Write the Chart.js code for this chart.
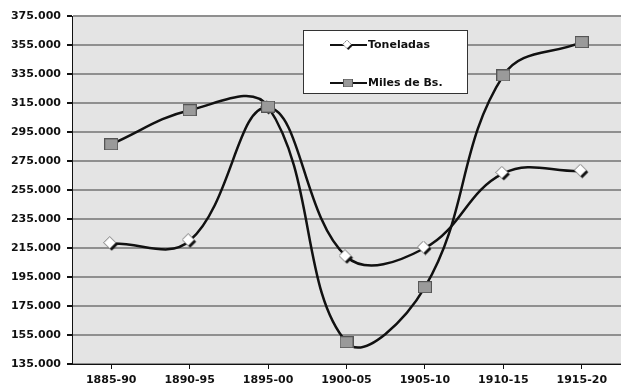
<!DOCTYPE html>
<html>
<head>
<meta charset="utf-8">
<script src="https://cdn.jsdelivr.net/npm/chart.js@4/dist/chart.umd.min.js"></script>
<style>
  html, body { margin: 0; padding: 0; background: #fff; }
  #wrap { width: 621px; height: 387px; position: relative; }
</style>
</head>
<body>
<div id="wrap"><canvas id="chart"></canvas></div>
<script>
// periodos
const periods = ['1885-90', '1890-95', '1895-00', '1900-05', '1905-10', '1910-15', '1915-20'];
// series
const toneladas = [218000, 220000, 312000, 209000, 215000, 266500, 268000];
const milesBs = [286500, 310000, 312500, 150000, 188000, 334000, 357000];
// eje y
const yMin = 135000;
const yMax = 375000;
const yStep = 20000;

const FONT = { family: '"DejaVu Sans", sans-serif', size: 11, weight: 'bold' };

function fmt(v) {
    return String(Math.round(v)).replace(/\B(?=(\d{3})+(?!\d))/g, '.');
}

// marcadores
function makeSquare() {
    const c = document.createElement('canvas');
    c.width = 14; c.height = 12;
    const g = c.getContext('2d');
    g.fillStyle = '#9a9a9a';
    g.fillRect(0.5, 0.5, 13, 11);
    g.strokeStyle = '#555';
    g.lineWidth = 1;
    g.strokeRect(0.5, 0.5, 13, 11);
    return c;
}

function makeDiamond() {
    const c = document.createElement('canvas');
    c.width = 16; c.height = 15;
    const g = c.getContext('2d');
    const d = (ox, oy) => {
        g.beginPath();
        g.moveTo(6.5 + ox, 0.5 + oy);
        g.lineTo(12.5 + ox, 6.5 + oy);
        g.lineTo(6.5 + ox, 12.5 + oy);
        g.lineTo(0.5 + ox, 6.5 + oy);
        g.closePath();
    };
    d(2, 2);
    g.fillStyle = '#111';
    g.fill();
    d(0, 0);
    g.fillStyle = '#fff';
    g.fill();
    g.strokeStyle = '#777';
    g.lineWidth = 1;
    g.stroke();
    return c;
}

const diamond = makeDiamond();
const square = makeSquare();

const plotBg = {
    id: 'plotBg',
    beforeDraw(chart) {
        const { ctx, chartArea: a } = chart;
        ctx.save();
        ctx.fillStyle = '#e4e4e4';
        ctx.fillRect(a.left, a.top, a.right - a.left, a.bottom - a.top);
        ctx.restore();
    }
};

// leyenda en recuadro blanco
const boxLegend = {
    id: 'boxLegend',
    afterDraw(chart) {
        const ctx = chart.ctx;
        const x = 303, y = 30, w = 164, h = 63;
        ctx.save();
        ctx.fillStyle = '#fff';
        ctx.fillRect(x, y, w, h);
        ctx.strokeStyle = '#333';
        ctx.lineWidth = 1;
        ctx.strokeRect(x + 0.5, y + 0.5, w, h);
        ctx.font = 'bold 11px "DejaVu Sans", sans-serif';
        ctx.textBaseline = 'middle';
        chart.data.datasets.forEach((ds, i) => {
            const ly = 45 + i * 38;
            ctx.strokeStyle = '#111';
            ctx.lineWidth = 2;
            ctx.beginPath();
            ctx.moveTo(330, ly);
            ctx.lineTo(367, ly);
            ctx.stroke();
            const img = ds.pointStyle;
            const s = 0.7;
            ctx.drawImage(img, 348 - img.width * s / 2, ly - img.height * s / 2, img.width * s, img.height * s);
            ctx.fillStyle = '#111';
            ctx.fillText(ds.label, 368, ly);
        });
        ctx.restore();
    }
};

new Chart(document.getElementById('chart'), {
    type: 'line',
    data: {
        labels: periods,
        datasets: [{
            label: 'Toneladas',
            data: toneladas,
            borderColor: '#111',
            borderWidth: 2.5,
            tension: 0.4,
            pointStyle: diamond,
            order: 1
        }, {
            label: 'Miles de Bs.',
            data: milesBs,
            borderColor: '#111',
            borderWidth: 2.5,
            tension: 0.4,
            pointStyle: square,
            order: 0
        }]
    },
    options: {
        responsive: true,
        maintainAspectRatio: false,
        animation: false,
        layout: { autoPadding: false, padding: { top: 16, right: 0, left: 0, bottom: 0 } },
        plugins: {
            legend: { display: false },
            tooltip: { enabled: false }
        },
        scales: {
            x: {
                offset: true,
                grid: { drawOnChartArea: false, tickLength: 5, tickColor: '#111' },
                border: { color: '#111', width: 1 },
                ticks: { color: '#111', font: FONT, padding: 5, maxRotation: 0 },
                afterFit: s => {
                    s.height = 23;
                    s.paddingLeft = 0;
                    s.paddingRight = 0;
                }
            },
            y: {
                min: yMin,
                max: yMax,
                grid: { color: '#8f8f8f', lineWidth: 2, tickLength: 5, tickColor: '#111' },
                border: { color: '#111', width: 1 },
                ticks: { stepSize: yStep, color: '#111', font: FONT, padding: 6, callback: v => fmt(v) },
                afterFit: s => { s.width = 72; }
            }
        }
    },
    plugins: [plotBg, boxLegend]
});
</script>
</body>
</html>
